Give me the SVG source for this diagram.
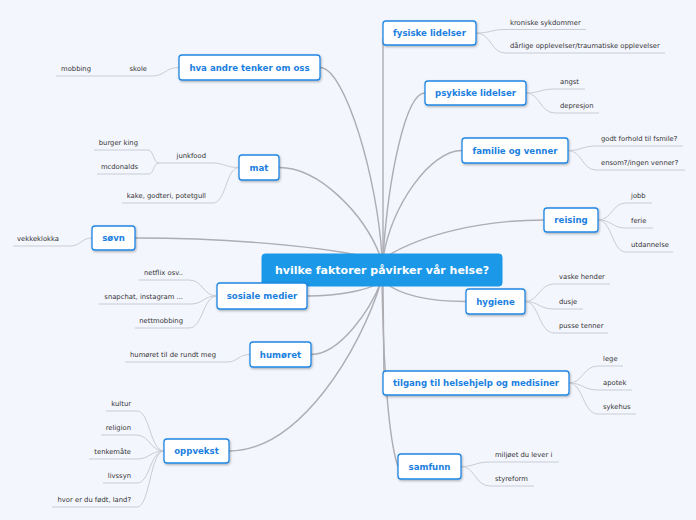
<svg xmlns="http://www.w3.org/2000/svg" width="696" height="520" viewBox="0 0 696 520">
<style>
.bg{fill:#f3f6fd}
.main{fill:none;stroke:#adadb2;stroke-width:1.4}
.leaf{fill:none;stroke:#c9ccd5;stroke-width:1}
.node rect{fill:#ffffff;stroke:#1f86e2;stroke-width:1.3;filter:url(#sh)}
.node text{font-family:"DejaVu Sans",Verdana,sans-serif;font-weight:bold;font-size:8.6px;fill:#1c7fe0;text-anchor:middle}
.root rect{fill:#1b98e8;stroke:#1b98e8;stroke-width:1}
.root text{font-family:"DejaVu Sans",Verdana,sans-serif;font-weight:bold;font-size:11px;fill:#ffffff;text-anchor:middle}
.t{font-family:"DejaVu Sans",Verdana,sans-serif;font-size:6.8px;fill:#333333}
.e{text-anchor:end}
</style>
<defs>
<filter id="sh" x="-20%" y="-40%" width="140%" height="180%">
<feDropShadow dx="0.8" dy="1.2" stdDeviation="0.8" flood-color="#000" flood-opacity="0.3"/>
</filter>
</defs>
<rect class="bg" x="0" y="0" width="696" height="520"/>
<g id="connectors">
<path class="main" d="M383,38 L383,258"/>
<path class="main" d="M425,93 C405,93 388,180 383,258"/>
<path class="main" d="M462,150.5 C430,150.5 392,205 383,258"/>
<path class="main" d="M544,220 C480,220 420,235 384,258"/>
<path class="main" d="M320,67.5 C345,67.5 378,180 382,258"/>
<path class="main" d="M279,167.5 C320,167.5 365,215 381,258"/>
<path class="main" d="M135,238 C220,238 320,245 381,260"/>
<path class="main" d="M307,296 C340,296 368,290 382,282"/>
<path class="main" d="M311,354.5 C340,354.5 370,310 381,282"/>
<path class="main" d="M229,451 C300,451 360,350 381,282"/>
<path class="main" d="M466,301.5 C430,301.5 400,295 384,282"/>
<path class="main" d="M383,282 L384,380"/>
<path class="main" d="M382,282 C384,400 392,450 398,466.5"/>
<path class="leaf" d="M476,33 C491,33 491,29.5 505,29.5 L586,29.5"/>
<path class="leaf" d="M476,33 C491,33 491,53 505,53 L665,53"/>
<path class="leaf" d="M526,93 C540,93 540,89 555,89 L585,89"/>
<path class="leaf" d="M526,93 C540,93 540,113 555,113 L599,113"/>
<path class="leaf" d="M568,150.5 C582,150.5 582,146 596,146 L683,146"/>
<path class="leaf" d="M568,150.5 C582,150.5 582,170 596,170 L685,170"/>
<path class="leaf" d="M598,220 C612,220 612,203 626,203 L652,203"/>
<path class="leaf" d="M598,220 C612,220 612,228 626,228 L653,228"/>
<path class="leaf" d="M598,220 C612,220 612,252 626,252 L673,252"/>
<path class="leaf" d="M525,301.5 C539,301.5 539,284 554,284 L610,284"/>
<path class="leaf" d="M525,301.5 C539,301.5 539,309 554,309 L583,309"/>
<path class="leaf" d="M525,301.5 C539,301.5 539,333 554,333 L608,333"/>
<path class="leaf" d="M569,383 C583,383 583,366 598,366 L623,366"/>
<path class="leaf" d="M569,383 C583,383 583,390 598,390 L632,390"/>
<path class="leaf" d="M569,383 C583,383 583,414 598,414 L636,414"/>
<path class="leaf" d="M461,466.5 C475,466.5 475,462 490,462 L559,462"/>
<path class="leaf" d="M461,466.5 C475,466.5 475,486 490,486 L534,486"/>
<path class="leaf" d="M179,67.5 C165,67.5 165,76 152,76 L56,76"/>
<path class="leaf" d="M239,167.5 C225,167.5 225,163 212,163 L159,163"/>
<path class="leaf" d="M159,163 C153,163 154,150 148,150 L94,150"/>
<path class="leaf" d="M159,163 C153,163 154,174 149,174 L97,174"/>
<path class="leaf" d="M239,167.5 C226,167.5 226,203 213,203 L122,203"/>
<path class="leaf" d="M92,238 C81,238 81,246 70,246 L13,246"/>
<path class="leaf" d="M217,296 C203,296 203,280 189,280 L139,280"/>
<path class="leaf" d="M217,296 C203,296 203,304 191,304 L99,304"/>
<path class="leaf" d="M217,296 C203,296 203,328 189,328 L135,328"/>
<path class="leaf" d="M250,354.5 C238,354.5 238,362 227,362 L125,362"/>
<path class="leaf" d="M164,451 C150,451 150,411 137,411 L106,411"/>
<path class="leaf" d="M164,451 C150,451 150,435 136,435 L101,435"/>
<path class="leaf" d="M164,451 C150,451 150,459 137,459 L89,459"/>
<path class="leaf" d="M164,451 C150,451 150,483 137,483 L103,483"/>
<path class="leaf" d="M164,451 C150,451 150,507 137,507 L52,507"/>
</g>
<g id="root" class="root"><rect x="262" y="254" width="240" height="32" rx="3"/><text x="382" y="274">hvilke faktorer påvirker vår helse?</text></g>
<g id="n-fysiske" class="node"><rect x="383" y="21" width="93" height="24" rx="3"/><text x="429.5" y="36">fysiske lidelser</text></g>
<g id="n-psykiske" class="node"><rect x="425" y="81" width="101" height="24" rx="3"/><text x="475.5" y="96">psykiske lidelser</text></g>
<g id="n-familie" class="node"><rect x="462" y="138" width="106" height="25" rx="3"/><text x="515" y="153.5">familie og venner</text></g>
<g id="n-reising" class="node"><rect x="544" y="208" width="54" height="24" rx="3"/><text x="571" y="223">reising</text></g>
<g id="n-hygiene" class="node"><rect x="466" y="289" width="59" height="25" rx="3"/><text x="495.5" y="304.5">hygiene</text></g>
<g id="n-tilgang" class="node"><rect x="383" y="371" width="186" height="24" rx="3"/><text x="476" y="386">tilgang til helsehjelp og medisiner</text></g>
<g id="n-samfunn" class="node"><rect x="398" y="454" width="63" height="25" rx="3"/><text x="429.5" y="469.5">samfunn</text></g>
<g id="n-hva" class="node"><rect x="179" y="55" width="141" height="25" rx="3"/><text x="249.5" y="70.5">hva andre tenker om oss</text></g>
<g id="n-mat" class="node"><rect x="239" y="155" width="40" height="25" rx="3"/><text x="259" y="170.5">mat</text></g>
<g id="n-sovn" class="node"><rect x="92" y="226" width="43" height="24" rx="3"/><text x="113.5" y="241">søvn</text></g>
<g id="n-sosiale" class="node"><rect x="217" y="283" width="90" height="26" rx="3"/><text x="262" y="299">sosiale medier</text></g>
<g id="n-humoret" class="node"><rect x="250" y="342" width="61" height="25" rx="3"/><text x="280.5" y="357.5">humøret</text></g>
<g id="n-oppvekst" class="node"><rect x="164" y="439" width="65" height="24" rx="3"/><text x="196.5" y="454">oppvekst</text></g>
<g id="leaves">
<text class="t" x="510" y="24.5">kroniske sykdommer</text>
<text class="t" x="510" y="48">dårlige opplevelser/traumatiske opplevelser</text>
<text class="t" x="560" y="84">angst</text>
<text class="t" x="560" y="108">depresjon</text>
<text class="t" x="601" y="141">godt forhold til fsmile?</text>
<text class="t" x="601" y="165">ensom?/ingen venner?</text>
<text class="t" x="631" y="198">jobb</text>
<text class="t" x="631" y="223">ferie</text>
<text class="t" x="631" y="247">utdannelse</text>
<text class="t" x="559" y="279">vaske hender</text>
<text class="t" x="559" y="304">dusje</text>
<text class="t" x="559" y="328">pusse tenner</text>
<text class="t" x="603" y="361">lege</text>
<text class="t" x="603" y="385">apotek</text>
<text class="t" x="603" y="409">sykehus</text>
<text class="t" x="495" y="457">miljøet du lever i</text>
<text class="t" x="495" y="481">styreform</text>
<text class="t e" x="147" y="71">skole</text>
<text class="t e" x="91" y="71">mobbing</text>
<text class="t e" x="206" y="158">junkfood</text>
<text class="t e" x="138" y="145">burger king</text>
<text class="t e" x="138" y="169">mcdonalds</text>
<text class="t e" x="206" y="198">kake, godteri, potetgull</text>
<text class="t e" x="59" y="241">vekkeklokka</text>
<text class="t e" x="183" y="275">netflix osv..</text>
<text class="t e" x="183" y="299">snapchat, instagram ...</text>
<text class="t e" x="183" y="323">nettmobbing</text>
<text class="t e" x="216" y="357">humøret til de rundt meg</text>
<text class="t e" x="131" y="406">kultur</text>
<text class="t e" x="131" y="430">religion</text>
<text class="t e" x="131" y="454">tenkemåte</text>
<text class="t e" x="131" y="478">livssyn</text>
<text class="t e" x="131" y="502">hvor er du født, land?</text>
</g>
</svg>
